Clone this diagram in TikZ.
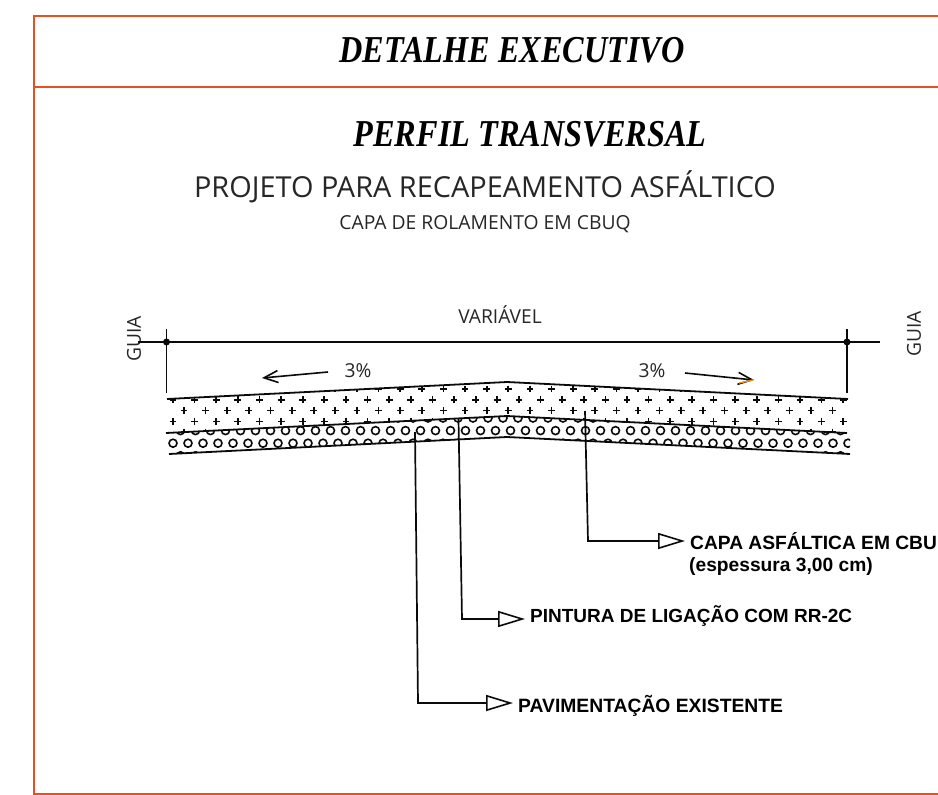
\documentclass[tikz,border=0pt]{standalone}
\usepackage{fontspec}
\setmainfont{Liberation Serif}
\newfontfamily\opensans{Open Sans}
\newfontfamily\libsans{Liberation Sans}
\usetikzlibrary{arrows.meta}
\definecolor{frameorange}{HTML}{E8501F}
\definecolor{inkblack}{HTML}{0A0A0A}
\definecolor{greytext}{HTML}{262626}
\tikzset{
  frameline/.style={draw=frameorange,line width=2pt},
  titletext/.style={font=\fontsize{38}{42}\selectfont\bfseries\itshape,text=black,inner sep=0pt,xscale=0.85},
  subtext/.style={font=\opensans\fontsize{28.9}{32}\selectfont,text=greytext,inner sep=0pt},
  smalltext/.style={font=\opensans\fontsize{19.3}{22}\selectfont,text=greytext,inner sep=0pt},
  dimtext/.style={font=\opensans\fontsize{19.2}{22}\selectfont,text=greytext,inner sep=0pt},
  layerline/.style={draw=inkblack,line width=1.8pt},
  dimline/.style={draw=inkblack,line width=1.6pt},
  slopearrow/.style={draw=inkblack,line width=1.6pt,-{Straight Barb[length=14pt,width=12pt,line width=1.6pt]}},
  leaderline/.style={draw=inkblack,line width=1.7pt,shorten >=5pt,-{Triangle[open,fill=white,length=27pt,width=16pt,line width=1.6pt]}},
  calllabel/.style={font=\libsans\bfseries\fontsize{19.2}{22}\selectfont,text=black,inner sep=0pt,anchor=west},
}
\begin{document}
\begin{tikzpicture}[x=1pt,y=-1pt]
\useasboundingbox (0,0) rectangle (938,795);
% frame
\draw[frameline] (938,15.5) -- (33.5,15.5) -- (33.5,794) -- (938,794);
\draw[frameline] (33.5,87) -- (938,87);
% titles
\node[titletext] (t1) at (512,50) {DETALHE EXECUTIVO};
\node[titletext] (t2) at (530,134) {PERFIL TRANSVERSAL};
\node[subtext] (t3) at (485,187) {PROJETO PARA RECAPEAMENTO ASFÁLTICO};
\node[smalltext] (t4) at (485,224) {CAPA DE ROLAMENTO EM CBUQ};
% dimension
\node[dimtext] (var) at (500,315) {VARIÁVEL};
\node[dimtext,rotate=90] (g1) at (134,339) {GUIA};
\node[dimtext,rotate=90] (g2) at (914,334) {GUIA};
\node[dimtext] (p1) at (358,371) {3\%};
\node[dimtext] (p2) at (652,371) {3\%};
\coordinate (dl) at (138,342);
\coordinate (dr) at (880,342);
\coordinate (tl1) at (166.5,329);
\coordinate (tl2) at (166.5,393);
\coordinate (tr1) at (847,329);
\coordinate (tr2) at (847,393);
\draw[dimline] (dl) -- (dr);
\draw[dimline] (tl1) -- (tl2);
\draw[dimline] (tr1) -- (tr2);
\fill[inkblack] (166.5,342) circle (3.5);
\fill[inkblack] (847,342) circle (3.5);
\coordinate (al1) at (328,372);
\coordinate (al2) at (262,378);
\coordinate (ar1) at (685,373);
\coordinate (ar2) at (754,380);
\draw[slopearrow] (al1) -- (al2);
\draw[slopearrow] (ar1) -- (ar2);
\draw[frameorange!60!yellow,line width=1.4pt] (739,383) -- (753,380);
% plus hatch
\begin{scope}
\clip (167,399) -- (507,382) -- (847,399) -- (847,433) -- (507,416) -- (167,433) -- cycle;
\foreach \r in {0,...,4}{
  \pgfmathsetmacro{\yy}{389+10.8*\r}
  \pgfmathsetmacro{\xo}{mod(\r,2)==0 ? 184 : 173}
  \foreach \k in {0,...,31}{
    \pgfmathsetmacro{\xx}{\xo+21.62*\k}
    \draw[inkblack,line width=1.7pt] (\xx-3.4,\yy) -- (\xx+3.4,\yy) (\xx,\yy-3.4) -- (\xx,\yy+3.4);
  }
}
\end{scope}
% circle hatch
\begin{scope}
\clip (166,433) -- (507,416) -- (847,433) -- (850,433) -- (850,454) -- (507,437) -- (169,454) -- cycle;
\foreach \r in {0,...,3}{
  \pgfmathsetmacro{\yy}{418+12.6*\r}
  \pgfmathsetmacro{\xo}{mod(\r,2)==0 ? 173 : 180.5}
  \foreach \k in {0,...,45}{
    \pgfmathsetmacro{\xx}{\xo+15*\k}
    \draw[inkblack,line width=1.6pt] (\xx,\yy) circle (4);
  }
}
\end{scope}
% layer lines
\draw[layerline] (167,399) -- (507,382) -- (848,399);
\draw[layerline] (166,433) -- (507,416) -- (847,433);
\draw[layerline] (169,454) -- (507,437) -- (850,454);
% callouts
\node[calllabel] (capa) at (690,541) {CAPA ASFÁLTICA EM CBU};
\node[calllabel] (esp) at (689,567) {(espessura 3,00 cm)};
\node[calllabel,font=\libsans\bfseries\fontsize{19}{22}\selectfont] (pint) at (530,616.5) {PINTURA DE LIGAÇÃO COM RR-2C};
\node[calllabel,font=\libsans\bfseries\fontsize{19.3}{22}\selectfont] (pav) at (518,706) {PAVIMENTAÇÃO EXISTENTE};
\coordinate (s1) at (585,411);
\coordinate (c1) at (588,541);
\coordinate (s2) at (458.5,419);
\coordinate (c2) at (462,619);
\coordinate (s3) at (415,432);
\coordinate (c3) at (418,703);
\draw[leaderline] (s1) -- (c1) -- (capa.west|-c1);
\draw[leaderline] (s2) -- (c2) -- (pint.west|-c2);
\draw[leaderline] (s3) -- (c3) -- (pav.west|-c3);
\end{tikzpicture}
\end{document}
